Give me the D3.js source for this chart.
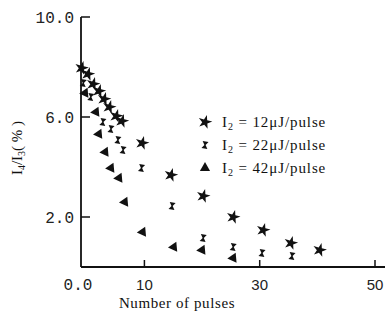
<!DOCTYPE html>
<html>
<head>
<meta charset="utf-8">
<script src="https://cdn.jsdelivr.net/npm/d3@7"></script>
<style>
  body { margin: 0; background: #fff; }
  svg { display: block; }
</style>
</head>
<body>
<svg id="chart" width="385" height="322"></svg>
<script>
// values
const xTicks = [10, 30, 50];
const yTicks = [2, 6, 10];
const yTickLabels = ["2.0", "6.0", "10.0"];

// I2 = 12 uJ/pulse
const s12x = [-0.9, 0.2, 1.1, 2.1, 3.0, 3.9, 5.1, 6.1, 9.6, 14.6, 20.2, 25.4, 30.6, 35.4, 40.4];
const s12y = [7.96, 7.72, 7.32, 7.04, 6.72, 6.4, 6.04, 5.84, 4.96, 3.68, 2.84, 2.0, 1.48, 0.96, 0.68];
// I2 = 22 uJ/pulse
const s22x = [-0.6, 0.7, 2.8, 4.2, 5.4, 6.3, 9.5, 14.8, 20.2, 25.4, 30.4, 35.6];
const s22y = [7.36, 6.8, 5.8, 5.52, 5.08, 4.68, 3.96, 2.44, 1.16, 0.8, 0.56, 0.44];
// I2 = 42 uJ/pulse
const s42x = [-0.3, 1.6, 2.1, 3.2, 4.2, 5.6, 6.6, 9.7, 15.1, 20.0, 25.4];
const s42y = [6.96, 6.2, 5.32, 4.6, 3.96, 3.56, 2.6, 1.4, 0.8, 0.68, 0.36];

const legendLabels = ["12", "22", "42"];

const svg = d3.select("#chart");
const x = d3.scaleLinear().domain([-1, 50]).range([81, 375]);
const y = d3.scaleLinear().domain([0, 10]).range([267, 17]);

// axes
svg.append("line").attr("x1", 81).attr("x2", 81).attr("y1", y(10)).attr("y2", y(0))
    .attr("stroke", "#111").attr("stroke-width", 1.8);
svg.append("line").attr("x1", 81).attr("x2", 385).attr("y1", y(0)).attr("y2", y(0))
    .attr("stroke", "#111").attr("stroke-width", 2);

// y ticks point inwards
svg.selectAll(".ytick").data(yTicks).join("line")
    .attr("x1", 81).attr("x2", 90)
    .attr("y1", d => y(d)).attr("y2", d => y(d))
    .attr("stroke", "#111").attr("stroke-width", 1.5);
svg.selectAll(".ylab").data(yTicks).join("text")
    .attr("x", 74).attr("y", d => y(d) + 6)
    .attr("text-anchor", "end")
    .attr("font-family", "Liberation Mono")
    .attr("font-size", 16)
    .attr("fill", "#222")
    .text((d, i) => yTickLabels[i]);

svg.selectAll(".xtick").data(xTicks).join("line")
    .attr("x1", d => x(d)).attr("x2", d => x(d))
    .attr("y1", y(0)).attr("y2", y(0) - 7)
    .attr("stroke", "#111").attr("stroke-width", 1.5);
svg.selectAll(".xlab").data(xTicks).join("text")
    .attr("x", d => x(d)).attr("y", 290)
    .attr("text-anchor", "middle")
    .attr("font-family", "Liberation Sans")
    .attr("font-size", 15)
    .attr("fill", "#222")
    .text(d => d);
svg.append("text").attr("x", 78).attr("y", 290)
    .attr("text-anchor", "middle")
    .attr("font-family", "Liberation Mono")
    .attr("font-size", 16).attr("fill", "#222")
    .text("0.0");

// axis titles
svg.append("text").attr("x", 177).attr("y", 308)
    .attr("text-anchor", "middle")
    .attr("font-family", "Liberation Serif")
    .attr("font-size", 15).attr("letter-spacing", 0.6).attr("fill", "#111")
    .text("Number of pulses");

const yt = svg.append("text")
    .attr("transform", "translate(22,148) rotate(-90)")
    .attr("text-anchor", "middle")
    .attr("font-family", "Liberation Serif")
    .attr("font-size", 15).attr("fill", "#111");
yt.append("tspan").text("I");
yt.append("tspan").attr("font-size", 10).attr("dy", 3).text("4");
yt.append("tspan").attr("dy", -3).text("/I");
yt.append("tspan").attr("font-size", 10).attr("dy", 3).text("3");
yt.append("tspan").attr("dy", -3).text("( % )");

// marker shapes
const star = d3.symbol().type(d3.symbolStar).size(60)();
const bow = "M-3,-3.5L3,-3.5L0.6,0L3,3.5L-3,3.5L-0.6,0Z";
const tri = d3.symbol().type(d3.symbolTriangle).size(45)();

function drawSeries(xs, ys, path, rot) {
    svg.append("g").selectAll("path").data(xs).join("path")
        .attr("d", path)
        .attr("transform", (d, i) => `translate(${x(d)},${y(ys[i])}) rotate(${rot})`)
        .attr("fill", "#111");
}
drawSeries(s12x, s12y, star, 15);
drawSeries(s22x, s22y, bow, 10);
drawSeries(s42x, s42y, tri, -95);

// legend
const legY = [122, 145, 168];
const legPaths = [[star, 15], [bow, 10], [tri, 0]];
legY.forEach((ly, i) => {
    svg.append("path").attr("d", legPaths[i][0])
        .attr("transform", `translate(205,${ly}) rotate(${legPaths[i][1]})`)
        .attr("fill", "#111");
    const t = svg.append("text").attr("x", 222).attr("y", ly + 5)
        .attr("font-family", "Liberation Serif")
        .attr("font-size", 15).attr("letter-spacing", 0.9).attr("fill", "#111");
    t.append("tspan").text("I");
    t.append("tspan").attr("font-size", 10).attr("dy", 3).text("2");
    t.append("tspan").attr("dy", -3).text(" = " + legendLabels[i] + "\u03bcJ/pulse");
});
</script>
</body>
</html>
